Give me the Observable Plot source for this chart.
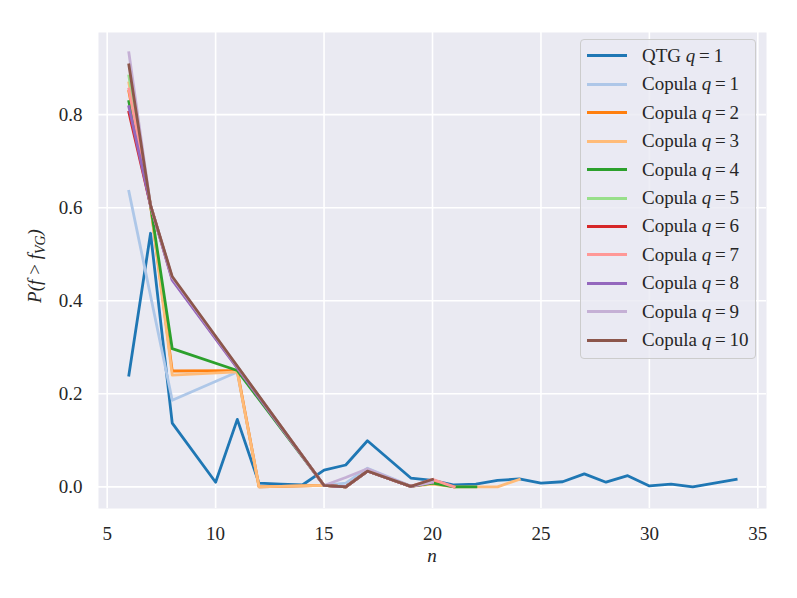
<!DOCTYPE html>
<html>
<head>
<meta charset="utf-8">
<script src="https://cdn.jsdelivr.net/npm/d3@7"></script>
<script src="https://cdn.jsdelivr.net/npm/@observablehq/plot@0.6"></script>
<style>
  html, body { margin: 0; padding: 0; background: #ffffff; }
  #wrap { position: relative; width: 797px; height: 598px; font-family: "Liberation Serif", "DejaVu Serif", serif; }
  #legend { position: absolute; left: 580px; top: 39px; width: 176px; height: 320px; box-sizing: border-box;
    border: 1px solid #cccccc; border-radius: 4px; background: rgba(234,234,242,0.8); }
  .row { position: absolute; left: 0; height: 28px; width: 100%; }
  .sw { position: absolute; left: 6px; top: 12.5px; width: 40px; height: 3px; }
  .lab { position: absolute; left: 61px; top: 0; line-height: 28px; font-size: 19px; color: #262626; white-space: nowrap; }
  .it { font-style: italic; }
</style>
</head>
<body>
<div id="wrap"><div id="chart"></div><div id="legend"></div></div>
<script>
// ---- data ----
const seriesNames = ["QTG q=1", "Copula q=1", "Copula q=2", "Copula q=3", "Copula q=4", "Copula q=5",
  "Copula q=6", "Copula q=7", "Copula q=8", "Copula q=9", "Copula q=10"];
const seriesColors = ["#1f77b4", "#aec7e8", "#ff7f0e", "#ffbb78", "#2ca02c", "#98df8a",
  "#d62728", "#ff9896", "#9467bd", "#c5b0d5", "#8c564b"];

const nQTG = [6, 7, 8, 10, 11, 12, 13, 14, 15, 16, 17, 19, 20, 21, 22, 23, 24, 25, 26, 27, 28, 29, 30, 31, 32, 33, 34];
const pQTG = [0.24, 0.545, 0.137, 0.01, 0.145, 0.008, 0.006, 0.004, 0.036, 0.047, 0.099, 0.019, 0.014, 0.004, 0.006, 0.014, 0.017, 0.008, 0.011, 0.028, 0.010, 0.024, 0.002, 0.006, 0.0, 0.008, 0.016];

const nCop1 = [6, 8, 11, 12, 15, 16, 17, 19, 20];
const pCop1 = [0.635, 0.186, 0.247, 0.0, 0.003, 0.008, 0.040, 0.002, 0.010];

const nCop2 = [6, 7, 8, 11, 12, 15, 16, 17, 19, 20, 21];
const pCop2 = [0.85, 0.605, 0.249, 0.25, 0.0, 0.003, 0.0, 0.034, 0.001, 0.012, 0.0];

const nCop3 = [6, 7, 8, 11, 12, 15, 16, 17, 19, 20, 21, 22, 23, 24];
const pCop3 = [0.868, 0.605, 0.240, 0.247, 0.0, 0.003, 0.0, 0.034, 0.001, 0.006, 0.0, 0.0, 0.0, 0.016];

const nCop4 = [6, 7, 8, 11, 15, 16, 17, 19, 20, 21, 22];
const pCop4 = [0.828, 0.605, 0.297, 0.25, 0.003, 0.0, 0.034, 0.001, 0.008, 0.0, 0.0];

const nCop5 = [6, 7, 8, 11, 15, 16, 17, 19, 20];
const pCop5 = [0.883, 0.605, 0.448, 0.258, 0.003, 0.0, 0.034, 0.001, 0.010];

const nCop6 = [6, 7, 8, 15, 16, 17, 19, 20];
const pCop6 = [0.805, 0.605, 0.447, 0.003, 0.0, 0.034, 0.001, 0.010];

const nCop7 = [6, 7, 8, 15, 16, 17, 19, 20, 21];
const pCop7 = [0.855, 0.605, 0.446, 0.003, 0.0, 0.034, 0.001, 0.016, 0.0];

const nCop8 = [6, 7, 8, 15, 16, 17, 19, 20];
const pCop8 = [0.817, 0.605, 0.444, 0.003, 0.0, 0.034, 0.001, 0.010];

const nCop9 = [6, 7, 8, 15, 16, 17, 19, 20];
const pCop9 = [0.933, 0.605, 0.450, 0.003, 0.020, 0.039, 0.001, 0.010];

const nCop10 = [6, 7, 8, 15, 16, 17, 19, 20];
const pCop10 = [0.907, 0.605, 0.452, 0.003, 0.0, 0.034, 0.001, 0.016];

const xTicks = [5, 10, 15, 20, 25, 30, 35];
const yTicks = [0.0, 0.2, 0.4, 0.6, 0.8];

// ---- build tables ----
const allN = [nQTG, nCop1, nCop2, nCop3, nCop4, nCop5, nCop6, nCop7, nCop8, nCop9, nCop10];
const allP = [pQTG, pCop1, pCop2, pCop3, pCop4, pCop5, pCop6, pCop7, pCop8, pCop9, pCop10];
const tables = allN.map((ns, i) => ns.map((n, j) => ({n, p: allP[i][j], series: seriesNames[i]})));

const font = '"Liberation Serif", "DejaVu Serif", serif';

const chart = Plot.plot({
  width: 797,
  height: 598,
  marginLeft: 98,
  marginRight: 31,
  marginTop: 32,
  marginBottom: 90,
  style: {fontFamily: font, fontSize: "19px", color: "#262626", background: "#ffffff"},
  x: {domain: [4.6, 35.4], ticks: xTicks},
  y: {domain: [-0.0465, 0.9765], ticks: yTicks},
  marks: [
    Plot.frame({fill: "#eaeaf2", stroke: null}),
    Plot.ruleX(xTicks, {stroke: "#ffffff", strokeWidth: 1.6}),
    Plot.ruleY(yTicks, {stroke: "#ffffff", strokeWidth: 1.6}),
    ...tables.map((t, i) => Plot.line(t, {x: "n", y: "p", stroke: seriesColors[i], strokeWidth: 2.8, strokeLinejoin: "round", strokeLinecap: "square"})),
    Plot.axisX({ticks: xTicks, tickSize: 0, tickPadding: 18, label: null, fontSize: 19, tickFormat: d3.format("d")}),
    Plot.axisY({ticks: yTicks, tickSize: 0, tickPadding: 16, label: null, fontSize: 19, tickFormat: d3.format(".1f")})
  ]
});
document.getElementById("chart").appendChild(chart);

// axis titles with italic math text
const svg = d3.select(chart);
svg.append("text")
  .attr("x", 432).attr("y", 562)
  .attr("text-anchor", "middle")
  .attr("font-family", font).attr("font-size", 19).attr("font-style", "italic").attr("fill", "#262626")
  .text("n");

const yl = svg.append("text")
  .attr("transform", "translate(41,266) rotate(-90)")
  .attr("text-anchor", "middle")
  .attr("font-family", font).attr("font-size", 19).attr("font-style", "italic").attr("fill", "#262626");
yl.append("tspan").text("P(f\u2009>\u2009f");
yl.append("tspan").attr("font-size", 14).attr("dy", 4).text("VG");
yl.append("tspan").attr("dy", -4).text(")");

// legend
const legend = document.getElementById("legend");
seriesNames.forEach((name, i) => {
  const row = document.createElement("div");
  row.className = "row";
  row.style.top = (1.7 + i * 28.46) + "px";
  const sw = document.createElement("div");
  sw.className = "sw";
  sw.style.background = seriesColors[i];
  const lab = document.createElement("div");
  lab.className = "lab";
  const parts = name.split(" q=");
  lab.innerHTML = parts[0] + ' <span class="it">q</span>\u2009=\u2009' + parts[1];
  row.appendChild(sw);
  row.appendChild(lab);
  legend.appendChild(row);
});
</script>
</body>
</html>
